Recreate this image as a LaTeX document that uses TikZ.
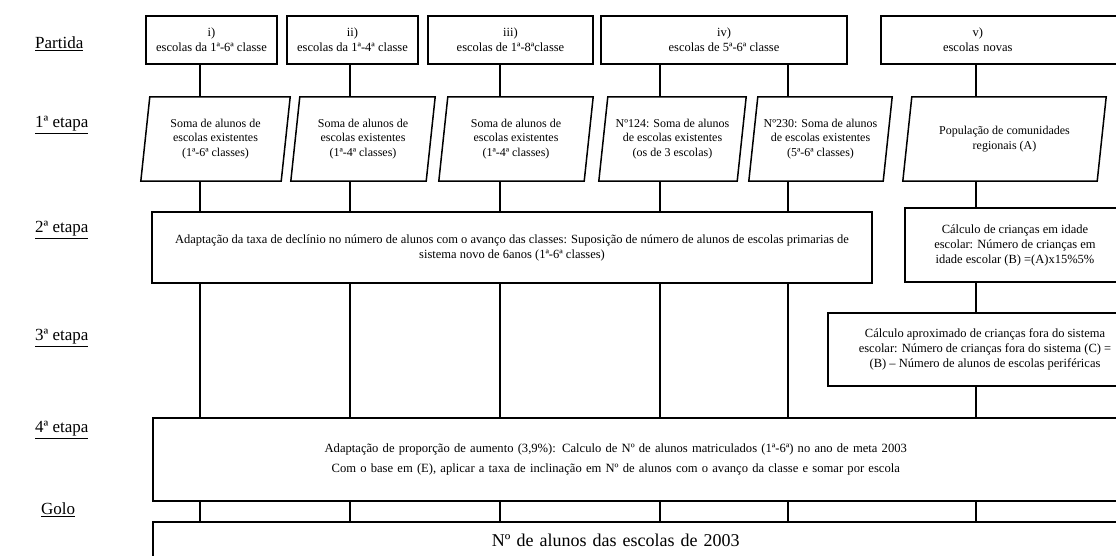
\documentclass[tikz,border=0pt]{standalone}
\usepackage{fontspec}
\setmainfont{Liberation Serif}
\usetikzlibrary{calc}
\newcommand\parashape[1]{%
  \draw[line] ([xshift=4.5pt]#1.north west) -- ([xshift=4.5pt]#1.north east)
    -- ([xshift=-4.5pt]#1.south east) -- ([xshift=-4.5pt]#1.south west) -- cycle;}
\begin{document}
\begin{tikzpicture}[x=1pt,y=-1pt,
  line/.style={line width=1.5pt},
  box/.style={draw, line width=1.5pt, rectangle, inner sep=2pt, align=center,
    font=\fontsize{12.5}{15}\selectfont},
  ptext/.style={inner sep=0pt, align=center, font=\fontsize{12}{14.5}\selectfont},
  lbl/.style={anchor=west, inner sep=0pt, font=\fontsize{17}{20}\selectfont}]
\useasboundingbox (0,0) rectangle (1116,556);
\fill[white] (0,0) rectangle (1116,556);
\clip (0,0) rectangle (1116,556);

% stage labels
\node[lbl] (l0) at (35,44)  {\underline{Partida}};
\node[lbl] (l1) at (35,125) {\underline{1ª etapa}};
\node[lbl] (l2) at (35,230) {\underline{2ª etapa}};
\node[lbl] (l3) at (35,338) {\underline{3ª etapa}};
\node[lbl] (l4) at (35,430) {\underline{4ª etapa}};
\node[lbl] (l5) at (41,510) {\underline{Golo}};

% starting boxes
\node[box, minimum width=131pt, minimum height=48pt] (b1) at (211.5,40) {i)\\escolas da 1ª-6ª classe};
\node[box, minimum width=131pt, minimum height=48pt] (b2) at (352.5,40) {ii)\\escolas da 1ª-4ª classe};
\node[box, minimum width=165pt, minimum height=48pt] (b3) at (510.5,40) {iii)\\escolas de 1ª-8ªclasse};
\node[box, minimum width=246pt, minimum height=48pt] (b4) at (724,40) {iv)\\escolas de 5ª-6ª classe};
\node[box, anchor=west, minimum height=48pt, text width=250pt, align=left, inner xsep=0pt] (b5) at (880,40)
  {\parbox{194pt}{\centering v)\\escolas novas}};

% first stage (parallelograms)
\node[ptext, minimum width=140pt, minimum height=84pt] (p1) at (215.5,139) {Soma de alunos de\\escolas existentes\\(1ª-6ª classes)};
\node[ptext, minimum width=135pt, minimum height=84pt] (p2) at (363,139) {Soma de alunos de\\escolas existentes\\(1ª-4ª classes)};
\node[ptext, minimum width=145pt, minimum height=84pt] (p3) at (516,139) {Soma de alunos de\\escolas existentes\\(1ª-4ª classes)};
\node[ptext, minimum width=138pt, minimum height=84pt] (p4) at (672.5,139) {Nº124: Soma de alunos\\de escolas existentes\\(os de 3 escolas)};
\node[ptext, minimum width=134pt, minimum height=84pt] (p5) at (820.5,139) {Nº230: Soma de alunos\\de escolas existentes\\(5ª-6ª classes)};
\node[ptext, minimum width=194pt, minimum height=84pt] (p6) at (1004.5,139) {População de comunidades\\regionais (A)};
\foreach \p in {p1,p2,p3,p4,p5,p6} {\parashape{\p}}

% second stage
\node[box, minimum width=720pt, minimum height=71pt] (s2) at (512,247.5)
  {Adaptação da taxa de declínio no número de alunos com o avanço das classes: Suposição de número de alunos de escolas primarias de\\sistema novo de 6anos (1ª-6ª classes)};
\node[box, minimum width=220pt, minimum height=74pt] (sB) at (1015,245)
  {Cálculo de crianças em idade\\escolar: Número de crianças em\\idade escolar (B) =(A)x15\%5\%};

% third stage
\node[box, minimum width=314pt, minimum height=73pt] (sC) at (985,349.5)
  {Cálculo aproximado de crianças fora do sistema\\escolar: Número de crianças fora do sistema (C) =\\(B) – Número de alunos de escolas periféricas};

% fourth stage
\node[box, anchor=west, minimum height=83pt, text width=980pt, align=left, inner xsep=0pt,
      font=\fontsize{12.6}{15}\selectfont] (s4) at (152,459.5)
  {\parbox{926pt}{\centering Adaptação de proporção de aumento (3,9\%): Calculo de Nº de alunos matriculados (1ª-6ª) no ano de meta 2003\\[5pt]
   Com o base em (E), aplicar a taxa de inclinação em Nº de alunos com o avanço da classe e somar por escola}};

% goal
\node[box, anchor=west, minimum height=36pt, text width=980pt, align=left, inner xsep=0pt,
      font=\fontsize{18}{21}\selectfont] (g) at (152,540)
  {\parbox{926pt}{\centering Nº de alunos das escolas de 2003}};

% column positions of the connectors
\coordinate (c1) at (200,0);
\coordinate (c2) at (350,0);
\coordinate (c3) at (500,0);
\coordinate (c4) at (660,0);
\coordinate (c5) at (788,0);
\coordinate (c6) at (976,0);

% connectors
\draw[line] (c1 |- b1.south) -- (c1 |- p1.north);
\draw[line] (c2 |- b2.south) -- (c2 |- p2.north);
\draw[line] (c3 |- b3.south) -- (c3 |- p3.north);
\draw[line] (c4 |- b4.south) -- (c4 |- p4.north);
\draw[line] (c5 |- b4.south) -- (c5 |- p5.north);
\draw[line] (c6 |- b5.south) -- (c6 |- p6.north);

\draw[line] (c1 |- p1.south) -- (c1 |- s2.north);
\draw[line] (c2 |- p2.south) -- (c2 |- s2.north);
\draw[line] (c3 |- p3.south) -- (c3 |- s2.north);
\draw[line] (c4 |- p4.south) -- (c4 |- s2.north);
\draw[line] (c5 |- p5.south) -- (c5 |- s2.north);
\draw[line] (c6 |- p6.south) -- (c6 |- sB.north);

\foreach \c in {c1,c2,c3,c4,c5} {\draw[line] (\c |- s2.south) -- (\c |- s4.north);}
\draw[line] (c6 |- sB.south) -- (c6 |- sC.north);
\draw[line] (c6 |- sC.south) -- (c6 |- s4.north);

\foreach \c in {c1,c2,c3,c4,c5,c6} {\draw[line] (\c |- s4.south) -- (\c |- g.north);}
\end{tikzpicture}
\end{document}
